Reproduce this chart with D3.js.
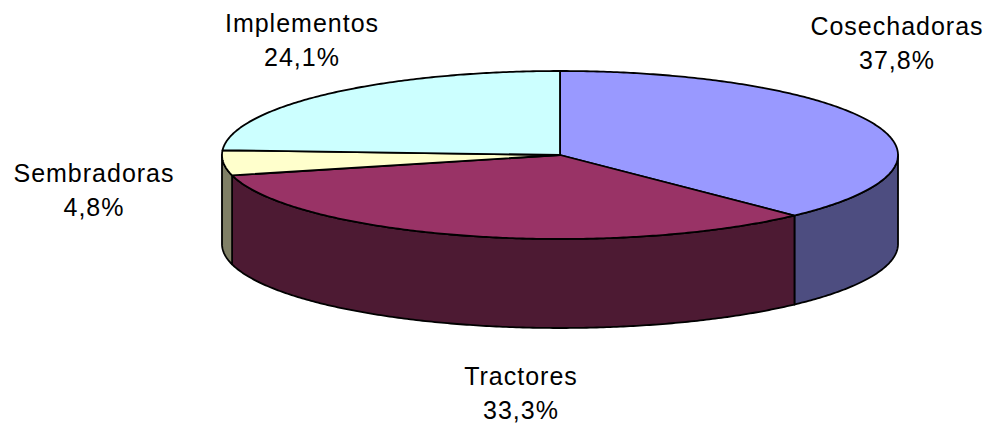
<!DOCTYPE html>
<html><head><meta charset="utf-8">
<script src="https://cdn.jsdelivr.net/npm/d3@7/dist/d3.min.js"></script>
<style>body{margin:0;background:#fff}svg{display:block}</style>
</head><body>
<svg id="chart" width="995" height="423"></svg>
<script>
const categories = ["Cosechadoras", "Tractores", "Sembradoras", "Implementos"];
const values = [37.8, 33.3, 4.8, 24.1];
const valueLabels = ["37,8%", "33,3%", "4,8%", "24,1%"];
const topColors = ["#9999FF", "#993366", "#FFFFCC", "#CCFFFF"];
const sideColors = ["#4D4D80", "#4D1A33", "#808066", "#668080"];

// layout
const cx = 560, cy = 155, rx = 338, ry = 84, depth = 89;
const labelLayout = {
  "Cosechadoras": [897, 35],
  "Tractores": [521, 385],
  "Sembradoras": [94, 182],
  "Implementos": [302, 32]
};
const lineGap = 34;

const svg = d3.select("#chart");
const topColor = d3.scaleOrdinal().domain(categories).range(topColors);
const sideColor = d3.scaleOrdinal().domain(categories).range(sideColors);

const data = categories.map((c, i) => ({cat: c, value: values[i], label: valueLabels[i]}));
const pie = d3.pie().sort(null).value(d => d.value).startAngle(0).endAngle(2 * Math.PI);
const arcs = pie(data);

const px = (a) => cx + rx * Math.sin(a);
const py = (a, dz = 0) => cy - ry * Math.cos(a) + dz;
const line = d3.line();

function sample(a0, a1, dz) {
  const n = Math.max(2, Math.ceil(Math.abs(a1 - a0) / 0.01));
  const pts = [];
  for (let k = 0; k <= n; k++) {
    const a = a0 + (a1 - a0) * k / n;
    pts.push([px(a), py(a, dz)]);
  }
  return pts;
}

const gSide = svg.append("g");
const gTop = svg.append("g");

arcs.forEach(s => {
  const w0 = Math.max(s.startAngle, Math.PI / 2);
  const w1 = Math.min(s.endAngle, 3 * Math.PI / 2);
  if (w0 < w1) {
    const pts = sample(w0, w1, 0).concat(sample(w1, w0, depth));
    gSide.append("path")
      .attr("d", line(pts) + "Z")
      .attr("fill", sideColor(s.data.cat))
      .attr("stroke", "#000")
      .attr("stroke-width", 1.8)
      .attr("stroke-linejoin", "round");
  }
});

arcs.forEach(s => {
  const pts = [[cx, cy]].concat(sample(s.startAngle, s.endAngle, 0));
  gTop.append("path")
    .attr("d", line(pts) + "Z")
    .attr("fill", topColor(s.data.cat))
    .attr("stroke", "#000")
    .attr("stroke-width", 1.8)
    .attr("stroke-linejoin", "round");
});

const gLab = svg.append("g")
  .attr("font-family", "Liberation Sans, Arial, sans-serif")
  .attr("font-size", 25)
  .attr("fill", "#000")
  .attr("text-anchor", "middle");

arcs.forEach(s => {
  const [x, y] = labelLayout[s.data.cat];
  const t = gLab.append("text").attr("x", x).attr("y", y).style("letter-spacing", "1px");
  t.append("tspan").attr("x", x).attr("y", y).text(s.data.cat);
  t.append("tspan").attr("x", x).attr("y", y + lineGap).text(s.data.label);
});
</script>
</body></html>
